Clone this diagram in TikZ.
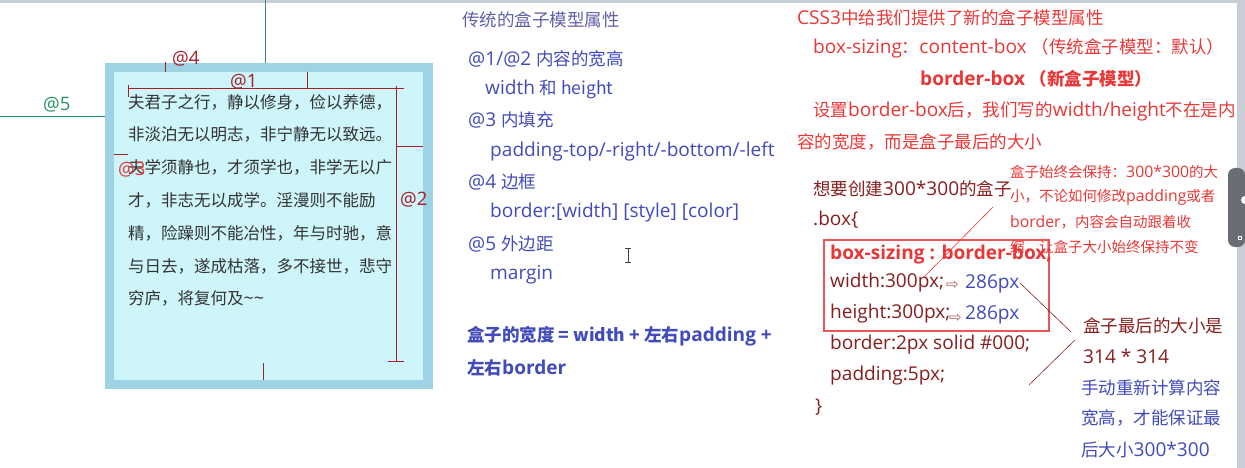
\documentclass[tikz,border=0pt]{standalone}
\usepackage{fontspec}
\setmainfont{Open Sans}[Scale=1.09]
\newfontfamily\latinfont{Open Sans}[Scale=1.09]
\newfontfamily\cjkfont{Noto Sans CJK SC}
\newfontfamily\arrowfont{DejaVu Sans}
\usetikzlibrary{positioning}

% switch to the CJK font for CJK characters
\XeTeXinterchartokenstate=1
\newXeTeXintercharclass\cjkclass
\makeatletter
\count@="3000
\loop\XeTeXcharclass\count@=\cjkclass\ifnum\count@<"303F\advance\count@ by 1\repeat
\count@="4E00
\loop\XeTeXcharclass\count@=\cjkclass\ifnum\count@<"9FFF\advance\count@ by 1\repeat
\count@="FF00
\loop\XeTeXcharclass\count@=\cjkclass\ifnum\count@<"FFEF\advance\count@ by 1\repeat
\makeatother
\XeTeXinterchartoks 0 \cjkclass = {\cjkfont}
\XeTeXinterchartoks 4095 \cjkclass = {\cjkfont}
\XeTeXinterchartoks \cjkclass 0 = {\latinfont}

\definecolor{boxblue}{RGB}{158,211,230}
\definecolor{boxfill}{RGB}{205,245,250}
\definecolor{dimred}{RGB}{165,30,40}
\definecolor{marginGreen}{RGB}{35,150,100}
\definecolor{midblue}{RGB}{65,75,185}
\definecolor{titleblue}{RGB}{95,95,170}
\definecolor{cssred}{RGB}{232,55,55}
\definecolor{darkred}{RGB}{135,30,30}
\definecolor{bargray}{RGB}{200,205,215}
\definecolor{tabgray}{RGB}{105,110,118}

\begin{document}
\begin{tikzpicture}[x=1pt,y=-1pt,
    every node/.style={inner sep=0pt,anchor=west},
    paratxt/.style={text=black!80,font=\fontsize{16.5}{18}\selectfont},
    dimlbl/.style={text=dimred,font=\fontsize{17}{18}\selectfont},
    midtxt/.style={text=midblue,font=\fontsize{17.5}{19}\selectfont},
    midbold/.style={text=midblue,font=\fontsize{17.5}{19}\selectfont\bfseries},
    redtxt/.style={text=cssred,font=\fontsize{17.5}{19}\selectfont},
    redbold/.style={text=cssred,font=\fontsize{17.5}{19}\selectfont\bfseries},
    notetxt/.style={text=cssred,font=\fontsize{14.5}{15}\selectfont},
    codetxt/.style={text=darkred,font=\fontsize{17.5}{19}\selectfont},
    pxtxt/.style={text=midblue,font=\fontsize{17.5}{19}\selectfont},
    arrowtxt/.style={text=darkred!70,font=\fontsize{15}{16}\selectfont\arrowfont},
    dimline/.style={draw=dimred,line width=1pt}]
\useasboundingbox (0,0) rectangle (1245,468);

% window frame
\fill[bargray] (0,0) rectangle (1245,3);
\fill[bargray] (1237,0) rectangle (1245,468);
\fill[tabgray,rounded corners=7] (1245,168) -| (1228,247) -- (1245,247) -- cycle;
\fill[white] (1245,200) circle (4);
\draw[white,line width=0.6pt] (1238.5,236.5) rectangle (1241.5,239.5);

% margin lines
\draw[marginGreen,line width=0.8pt] (265,0) -- (265,63);
\draw[marginGreen,line width=0.8pt] (0,116) -- (105,116);
\node[text=marginGreen,font=\fontsize{17}{18}\selectfont] (lblfive) at (43,105) {@5};

% the box
\fill[boxblue] (105,63) rectangle (433,389);
\fill[boxfill] (114,72) rectangle (423,380);

\foreach \t [count=\i] in {夫君子之行，静以修身，俭以养德，,
    非淡泊无以明志，非宁静无以致远。,
    夫学须静也，才须学也，非学无以广,
    才，非志无以成学。淫漫则不能励,
    精，险躁则不能冶性，年与时驰，意,
    与日去，遂成枯落，多不接世，悲守,
    穷庐，将复何及\textasciitilde\textasciitilde}
  \node[paratxt] (para\i) at (128,{102+32.8*(\i-1)}) {\t};

% dimension marks
\draw[dimline] (165,62) -- (165,72);
\draw[dimline] (128,85) -- (128,97);
\draw[dimline] (128,89) -- (404,89);
\draw[dimline] (307,72) -- (307,89);
\draw[dimline] (396,86) -- (396,361);
\draw[dimline] (388,361) -- (404,361);
\draw[dimline] (396,147) -- (423,147);
\draw[dimline] (114,155) -- (128,155);
\draw[dimline] (263,363) -- (263,380);
\node[dimlbl] (lblfour) at (172,59) {@4};
\node[dimlbl] (lblone) at (230,82) {@1};
\node[dimlbl] (lbltwo) at (400,200) {@2};
\node[dimlbl,text=cssred] (lblthree) at (118,170) {@3};

% traditional model
\node[midtxt,text=titleblue] (tradtitle) at (462,20) {传统的盒子模型属性};
\node[midtxt] (wh) at (468,59) {@1/@2 内容的宽高};
\node[midtxt] (whval) at (485,89) {width 和 height};
\node[midtxt] (pad) at (468,120) {@3 内填充};
\node[midtxt] (padval) at (490,151) {padding-top/-right/-bottom/-left};
\node[midtxt] (bdr) at (468,182) {@4 边框};
\node[midtxt] (bdrval) at (490,213) {border:[width] [style] [color]};
\node[midtxt] (mrg) at (468,244) {@5 外边距};
\node[midtxt] (mrgval) at (490,275) {margin};
\node[midbold] (sumone) at (467,336) {盒子的宽度 = width + 左右padding +};
\node[midbold] (sumtwo) at (467,368) {左右border};

% cursor
\draw[black!75,line width=0.8pt] (628,248) -- (628,262);
\draw[black!75,line width=0.8pt] (625,248) -- (631,248);
\draw[black!75,line width=0.8pt] (625,262) -- (631,262);

% css3 model
\node[redtxt] (csstitle) at (797,18) {CSS3中给我们提供了新的盒子模型属性};
\node[redtxt] (contentbox) at (813,48) {box-sizing：content-box （传统盒子模型：默认）};
\node[redbold] (borderbox) at (920,79) {border-box （新盒子模型）};
\node[redtxt] (setone) at (813,111) {设置border-box后，我们写的width/height不在是内};
\node[redtxt] (settwo) at (797,142) {容的宽度，而是盒子最后的大小};

\node[notetxt] (keepone) at (1010,172) {盒子始终会保持：300*300的大};
\node[notetxt] (keeptwo) at (1010,197) {小，不论如何修改padding或者};
\node[notetxt] (keepthree) at (1010,222) {border，内容会自动跟着收};
\node[notetxt] (keepfour) at (1010,247) {缩，让盒子大小始终保持不变};

\node[codetxt] (want) at (813,189) {想要创建300*300的盒子};
\node[codetxt] (boxopen) at (813,220) {.box\{};
\draw[cssred!85,line width=1.2pt] (824,240) rectangle (1049,331);
\node[redbold] (sizing) at (830,255) {box-sizing : border-box;};
\node[codetxt] (wdt) at (830,283) {width:300px;};
\node[arrowtxt] (wdtarrow) at (946,285) {⇨};
\node[pxtxt] (wdtpx) at (965,284) {286px};
\node[codetxt] (hgt) at (830,314) {height:300px;};
\node[arrowtxt] (hgtarrow) at (949,318) {⇨};
\node[pxtxt] (hgtpx) at (965,315) {286px};
\node[codetxt] (bordercss) at (830,345) {border:2px solid \#000;};
\node[codetxt] (paddingcss) at (830,376) {padding:5px;};
\node[codetxt] (boxclose) at (815,407) {\}};

\node[codetxt] (finalone) at (1083,326) {盒子最后的大小是};
\node[codetxt] (finaltwo) at (1083,356) {314 * 314};
\node[pxtxt] (manone) at (1081,388) {手动重新计算内容};
\node[pxtxt] (mantwo) at (1081,418) {宽高，才能保证最};
\node[pxtxt] (manthree) at (1081,450) {后大小300*300};

% pointer lines
\coordinate (sizingpt) at (923,278);
\coordinate (notept) at (993,207);
\coordinate (wdtend) at (1020,283);
\coordinate (padend) at (1029,385);
\coordinate (finalup) at (1071,332);
\coordinate (finaldown) at (1075,340);
\draw[cssred,line width=0.6pt] (sizingpt) -- (notept);
\draw[darkred,line width=0.6pt] (wdtend) -- (finalup);
\draw[darkred,line width=0.6pt] (padend) -- (finaldown);
\end{tikzpicture}
\end{document}
